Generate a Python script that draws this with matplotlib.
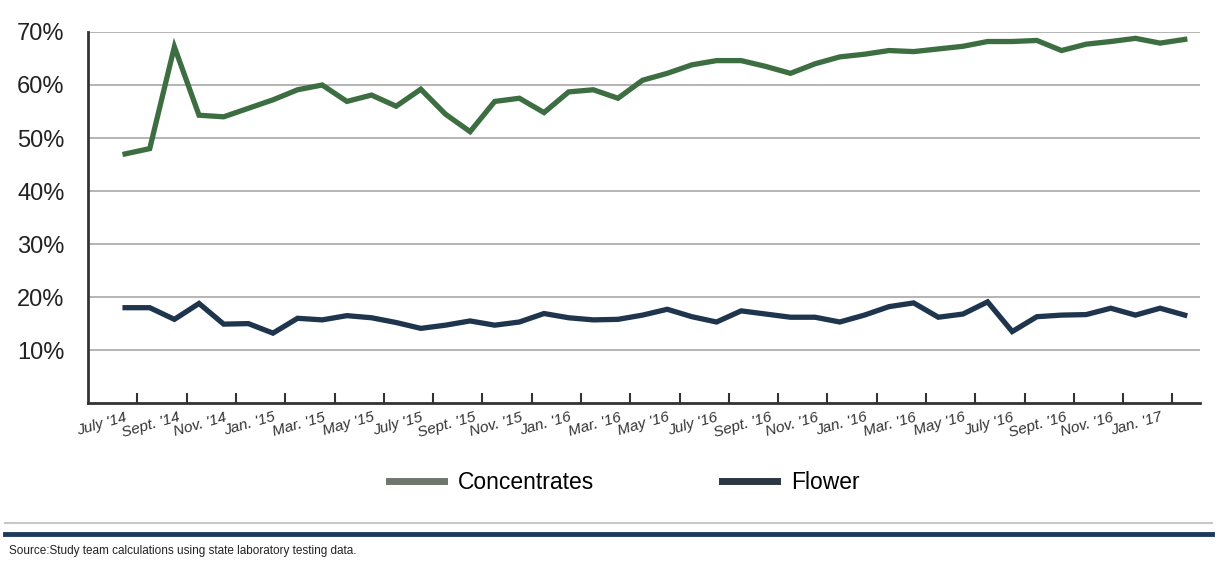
import matplotlib
matplotlib.use("Agg")
import matplotlib.pyplot as plt
from matplotlib.lines import Line2D
from matplotlib.ticker import FixedLocator, FuncFormatter

plt.rcParams['font.family'] = ['Liberation Sans', 'DejaVu Sans']

# monthly potency share (%), 44 months
concentrates = [47.0, 48.0, 67.2, 54.3, 54.0, 55.6, 57.2, 59.1, 60.0, 56.9,
                58.1, 56.0, 59.2, 54.5, 51.2, 56.9, 57.5, 54.8, 58.7, 59.1,
                57.5, 60.9, 62.2, 63.8, 64.6, 64.6, 63.5, 62.2, 64.0, 65.3,
                65.8, 66.5, 66.3, 66.8, 67.3, 68.2, 68.2, 68.4, 66.5, 67.7,
                68.2, 68.8, 67.9, 68.6]
flower = [18.0, 18.0, 15.8, 18.8, 14.9, 15.0, 13.2, 16.0, 15.7, 16.5,
          16.1, 15.2, 14.1, 14.7, 15.5, 14.7, 15.3, 16.9, 16.1, 15.7,
          15.8, 16.6, 17.7, 16.3, 15.3, 17.4, 16.8, 16.2, 16.2, 15.3,
          16.6, 18.2, 18.9, 16.2, 16.8, 19.1, 13.5, 16.3, 16.6, 16.7,
          17.9, 16.6, 17.9, 16.6]
month_labels = ["July '14", "Sept. '14", "Nov. '14", "Jan. '15", "Mar. '15",
                "May '15", "July '15", "Sept. '15", "Nov. '15", "Jan. '16",
                "Mar. '16", "May '16", "July '16", "Sept. '16", "Nov. '16",
                "Jan. '16", "Mar. '16", "May '16", "July '16", "Sept. '16",
                "Nov. '16", "Jan. '17"]
y_ticks = [10, 20, 30, 40, 50, 60, 70]

green = '#3c6e42'
navy = '#1f354d'
grid_gray = '#b4b4b4'

fig = plt.figure(figsize=(12.24, 5.71), dpi=100)
ax = fig.add_axes([0.072, 0.294, 0.908, 0.650])

x = list(range(len(concentrates)))
ax.plot(x, concentrates, color=green, linewidth=3.8, solid_joinstyle='miter', zorder=3)
ax.plot(x, flower, color=navy, linewidth=3.8, solid_joinstyle='miter', zorder=3)

ax.set_ylim(0, 70)
ax.set_xlim(-1.5, 43.6)
ax.set_yticks(y_ticks)
ax.yaxis.set_major_formatter(FuncFormatter(lambda v, p: '%d%%' % v))
ax.grid(axis='y', color=grid_gray, linewidth=1.4)
ax.set_axisbelow(True)
ax.tick_params(axis='y', length=0, labelsize=17, pad=17, labelcolor='#222222')

# ticks between pairs of months, labels under each pair
tick_pos = [0.5 + 2 * k for k in range(len(month_labels))]
label_pos = [-0.95 + 2 * k for k in range(len(month_labels))]
ax.xaxis.set_major_locator(FixedLocator(tick_pos))
ax.xaxis.set_major_formatter(FuncFormatter(lambda v, p: ''))
ax.xaxis.set_minor_locator(FixedLocator(label_pos))
ax.set_xticklabels(month_labels, minor=True, rotation=16, fontsize=11,
                   style='italic', color='#333333')
ax.tick_params(axis='x', which='major', direction='in', length=7, width=1.5, color='#333333')
ax.tick_params(axis='x', which='minor', length=0, pad=5)

for s in ['top', 'right']:
    ax.spines[s].set_visible(False)
for s in ['left', 'bottom']:
    ax.spines[s].set_linewidth(2)
    ax.spines[s].set_color('#333333')

handles = [Line2D([], [], color='#6e766e', linewidth=5),
           Line2D([], [], color='#2c3744', linewidth=5)]
fig.legend(handles, ['Concentrates', 'Flower'], loc='center', ncol=2,
           bbox_to_anchor=(0.51, 0.155), frameon=False, fontsize=16.5,
           handlelength=2.4, columnspacing=5.6, handletextpad=0.6)

fig.add_artist(Line2D([0.004, 0.99], [1 - 523 / 571, 1 - 523 / 571],
                      color='#c8c8c8', linewidth=1.5))
fig.add_artist(Line2D([0.004, 0.99], [1 - 534 / 571, 1 - 534 / 571],
                      color='#1d3a5c', linewidth=3.5))
fig.text(0.007, 1 - 551 / 571, 'Source:Study team calculations using state laboratory testing data.',
         fontsize=8.5, color='#222222', va='center')

fig.savefig('out.png', dpi=100, facecolor='white')
